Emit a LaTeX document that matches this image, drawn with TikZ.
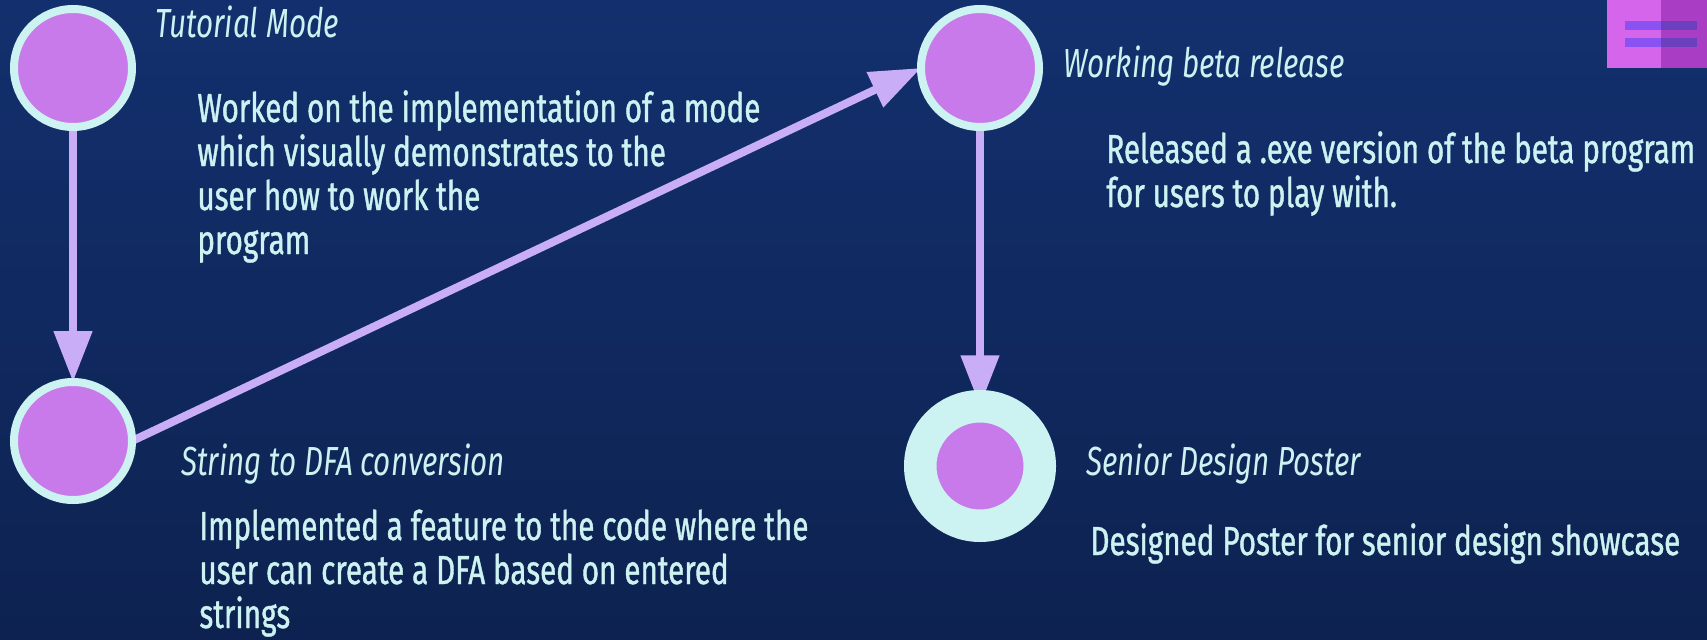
\documentclass[tikz,border=0pt]{standalone}
\usepackage{fontspec}
\setmainfont{Fira Sans}[FakeStretch=0.73, UprightFeatures={FakeBold=1}]
\usetikzlibrary{arrows.meta,positioning,backgrounds}

\definecolor{bgtop}{HTML}{13306E}
\definecolor{bgbottom}{HTML}{0D2250}
\definecolor{ringcyan}{HTML}{CDF2F2}
\definecolor{dotpink}{HTML}{C97AEA}
\definecolor{linklilac}{HTML}{C9AEF7}
\definecolor{iconlight}{HTML}{D565EA}
\definecolor{icondark}{HTML}{A93DC3}
\definecolor{barlight}{HTML}{8B52F2}
\definecolor{bardark}{HTML}{6B40BE}

\begin{document}
\begin{tikzpicture}[
    x=0.5pt, y=0.5pt,
    milestone/.style={circle, draw=ringcyan, fill=dotpink, line width=4pt,
        minimum size=59pt, inner sep=0pt, outer sep=0pt},
    finalstone/.style={circle, draw=ringcyan, fill=dotpink, line width=16.25pt,
        minimum size=59.75pt, inner sep=0pt, outer sep=0pt},
    title/.style={anchor=base west, inner sep=0pt, text=ringcyan,
        font=\fontsize{20.3}{22}\selectfont\itshape},
    note/.style={anchor=base west, inner sep=0pt, text=ringcyan, align=left,
        font=\fontsize{20.3}{22}\selectfont},
    link/.style={draw=linklilac, line width=4pt,
        -{Triangle[length=25.5pt,width=18.5pt]}}
]
\useasboundingbox (0,0) rectangle (1707,639);

\node (Tutorial) [milestone] at (73,571) {};
\node (StringDFA) [milestone] at (73,198) {};
\node (BetaRelease) [milestone] at (980,571) {};
\node (Poster) [finalstone] at (980,173) {};

% notes sit on the baseline of their last line
\node (TitleTutorial) [title] at (155,602) {Tutorial Mode};
\node (NoteTutorial) [note] at (197,385) {Worked on the implementation of a mode\\
    which visually demonstrates to the\\ user how to work the\\ program};
\node (TitleStringDFA) [title] at (181,164) {String to DFA conversion};
\node (NoteStringDFA) [note] at (199,11) {Implemented a feature to the code where the\\
    user can create a DFA based on entered\\ strings};
\node (TitleBetaRelease) [title] at (1063,561) {Working beta release};
\node (NoteBetaRelease) [note] at (1106,432) {Released a .exe version of the beta program\\
    for users to play with.};
\node (TitlePoster) [title] at (1086,164) {Senior Design Poster};
\node (NotePoster) [note] at (1090,84) {Designed Poster for senior design showcase};

% menu badge in the corner
\fill[iconlight] (1607,571) rectangle (1661,639);
\fill[icondark] (1661,571) rectangle (1707,639);
\fill[barlight] (1625,609) rectangle (1661,618);
\fill[bardark] (1661,609) rectangle (1697,618);
\fill[barlight] (1625,592) rectangle (1661,601);
\fill[bardark] (1661,592) rectangle (1697,601);

\begin{scope}[on background layer]
\fill[top color=bgtop, bottom color=bgbottom] (0,0) rectangle (1707,639);
\draw[link] (Tutorial) -- (StringDFA);
\draw[link] (StringDFA.east) -- (BetaRelease.west);
\draw[link] (BetaRelease) -- (Poster);
\end{scope}

\end{tikzpicture}
\end{document}
